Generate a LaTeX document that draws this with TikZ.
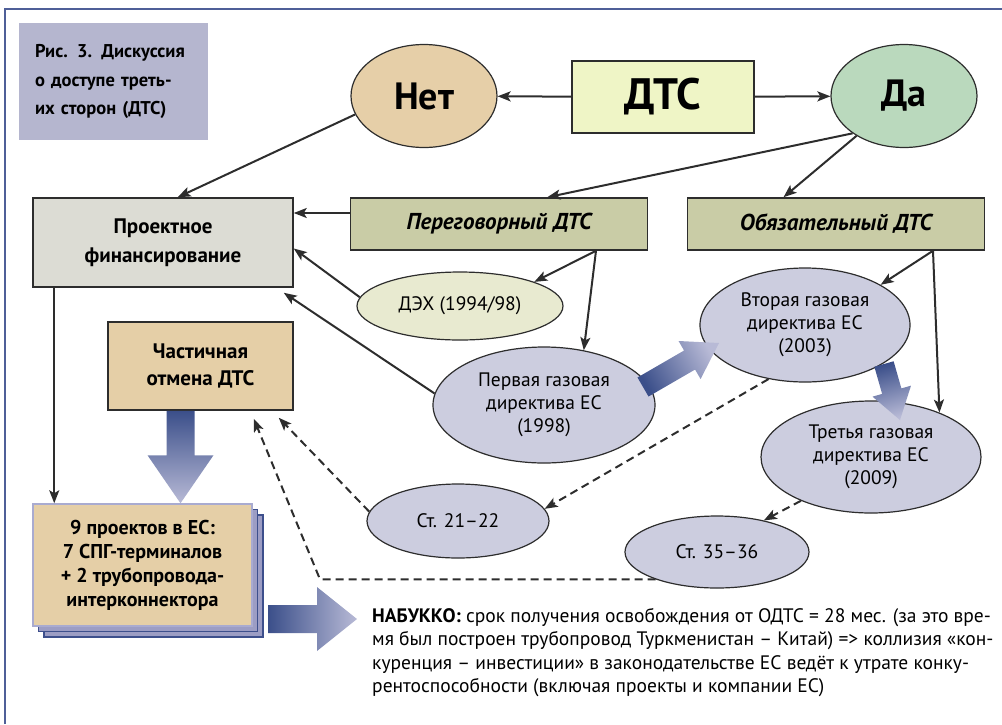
\documentclass[tikz,border=0pt]{standalone}
\usepackage{fontspec}
\setmainfont{PT Sans}
\usepackage{tikz}
\usetikzlibrary{shapes.geometric,arrows.meta,calc,shadows}
\definecolor{netfill}{HTML}{E6CFA8}
\definecolor{dafill}{HTML}{BAD9BD}
\definecolor{dtsfill}{HTML}{EFF5C6}
\definecolor{projfill}{HTML}{DCDCD4}
\definecolor{typefill}{HTML}{C9CCA6}
\definecolor{dehfill}{HTML}{E8EAD0}
\definecolor{dirfill}{HTML}{CCCDDF}
\definecolor{tanfill}{HTML}{E5CFA7}
\definecolor{capfill}{HTML}{B5B6CF}
\definecolor{arrowdark}{HTML}{3B4F8A}
\definecolor{arrowlight}{HTML}{B8BAD6}
\definecolor{linegray}{HTML}{2D2D2D}
\definecolor{frameblue}{HTML}{4F5F98}
\definecolor{shadowfill}{HTML}{9C9DC4}
\definecolor{shadowline}{HTML}{3D4F8C}
\definecolor{edgelav}{HTML}{A9ABD0}
\tikzstyle{box}=[rectangle,draw=linegray,line width=1.5pt,inner sep=2pt,align=center]
\tikzstyle{oval}=[ellipse,draw=linegray,line width=1.2pt,inner sep=0pt,align=center,
  fill=dirfill,font=\fontsize{19.5}{23}\selectfont]
\tikzstyle{yesno}=[ellipse,draw=linegray,line width=1.2pt,inner sep=0pt,
  minimum width=146pt,minimum height=103pt,font=\fontsize{38}{44}\selectfont\bfseries]
\tikzstyle{kind}=[box,fill=typefill,minimum width=297pt,minimum height=52pt,
  font=\fontsize{23}{27}\selectfont\bfseries\itshape]
\tikzstyle{con}=[draw=linegray,line width=2pt,-{Stealth[length=13pt,width=10pt,inset=3pt]}]
\tikzstyle{dcon}=[con,dash pattern=on 8pt off 5pt]
\tikzstyle{fat}=[top color=arrowdark,bottom color=arrowlight]
\newcommand{\fatarrow}[6]{%
  \coordinate (fa-neck) at ($(#2)!#5!(#1)$);
  \shade[fat,shading angle=#6] ($(#1)!#3!90:(#2)$) -- ($(fa-neck)!#3!-90:(#1)$)
    -- ($(fa-neck)!#4!-90:(#1)$) -- (#2) -- ($(fa-neck)!#4!90:(#1)$)
    -- ($(fa-neck)!#3!90:(#1)$) -- ($(#1)!#3!-90:(#2)$) -- cycle;}
\begin{document}
\begin{tikzpicture}[x=1pt,y=-1pt]
        \useasboundingbox (0,0) rectangle (1002,724);
        \draw [draw=frameblue,line width=1.5pt] (5,724) -- (5,9) -- (1002,9);
        \node [fill=capfill,minimum width=189pt,minimum height=117pt,inner xsep=16pt,
          text width=157pt,align=left,font=\fontsize{18.5}{28.5}\selectfont\bfseries]
          (cap) at (113.5,81.5) {Рис. 3. Дискуссия\\о доступе треть-\\их сторон (ДТС)};
        \node [style=yesno,fill=netfill] (net) at (424,96) {Нет};
        \node [style=box,fill=dtsfill,minimum width=182pt,minimum height=72pt,
          font=\fontsize{44}{50}\selectfont\bfseries] (dts) at (663,97) {ДТС};
        \node [style=yesno,fill=dafill] (da) at (904,96) {Да};
        \node [style=box,fill=projfill,minimum width=260pt,minimum height=89pt,
          font=\fontsize{21}{29}\selectfont\bfseries] (proekt) at (163,242.5)
          {Проектное\\финансирование};
        \node [style=kind] (pereg) at (499,224) {Переговорный ДТС};
        \node [style=kind] (obyaz) at (836,224) {Обязательный ДТС};
        \node [style=oval,fill=dehfill,minimum width=206pt,minimum height=68pt]
          (deh) at (460,306) {ДЭХ (1994/98)};
        \node [style=oval,minimum width=222pt,minimum height=116pt] (perv) at (544,405)
          {Первая газовая\\директива ЕС\\(1998)};
        \node [style=oval,minimum width=210pt,minimum height=114pt] (vtor) at (805,325)
          {Вторая газовая\\директива ЕС\\(2003)};
        \node [style=oval,minimum width=220pt,minimum height=112pt] (tret) at (871,457)
          {Третья газовая\\директива ЕС\\(2009)};
        \node [style=oval,minimum width=182pt,minimum height=74pt] (st21) at (458,521)
          {Ст. 21–22};
        \node [style=oval,minimum width=184pt,minimum height=72pt] (st35) at (717,552)
          {Ст. 35–36};
        \node [style=box,fill=tanfill,minimum width=185pt,minimum height=88pt,
          font=\fontsize{21}{27}\selectfont\bfseries] (chast) at (200.5,366)
          {Частичная\\отмена ДТС};
        \node [style=box,fill=tanfill,draw=edgelav,minimum width=219pt,minimum height=122pt,
          double copy shadow={shadow xshift=5.5pt,shadow yshift=-5.5pt,fill=shadowfill,
          draw=shadowline,line width=1.5pt},
          font=\fontsize{20}{24}\selectfont\bfseries] (proj9) at (142.5,565)
          {9 проектов в ЕС:\\7 СПГ-терминалов\\+ 2 трубопровода-\\интерконнектора};
        \node [anchor=north west,inner sep=0pt,align=left,
          font=\fontsize{19.5}{23.5}\selectfont] (note) at (372,608)
          {\textbf{НАБУККО:} срок получения освобождения от ОДТС = 28 мес. (за это вре-\\
          мя был построен трубопровод Туркменистан – Китай) => коллизия «кон-\\
          куренция – инвестиции» в законодательстве ЕС ведёт к утрате конку-\\
          рентоспособности (включая проекты и компании ЕС)};
        \coordinate (pg) at ([yshift=11pt]pereg.west);
        \coordinate (pf) at ([xshift=22pt]proekt.south west);
        \coordinate (bend) at (320,579);
        \draw [style=con] (dts) to (net);
        \draw [style=con] (dts) to (da);
        \draw [style=con] (net.195) to (proekt.72);
        \draw [style=con] (da.216) to (pereg.29);
        \draw [style=con] (da.220) to (obyaz.153);
        \draw [style=con] (pg) to (pg -| proekt.east);
        \draw [style=con] (deh.175) to ([yshift=-6pt]proekt.east);
        \draw [style=con] (perv.174) to ([xshift=-10pt,yshift=-5pt]proekt.south east);
        \draw [style=con] ([xshift=97pt]pereg.south) to (deh.18);
        \draw [style=con] ([xshift=97pt]pereg.south) to (perv.54);
        \draw [style=con] ([xshift=97pt]obyaz.south) to (vtor.28);
        \draw [style=con] ([xshift=97pt]obyaz.south) to (tret.33);
        \draw [style=con] (pf) to (pf |- proj9.north);
        \draw [style=dcon] (vtor.236) to (st21.8);
        \draw [style=dcon] (tret.212) to (st35.34);
        \draw [style=dcon] (st21.174) to ([xshift=-15pt,yshift=-7pt]chast.south east);
        \draw [style=dcon] (st35.204) -- (st35.204 -| bend)
          -- ([xshift=-40pt,yshift=-8pt]chast.south east);
        % block arrows
        \coordinate (ca) at ([xshift=-20pt]chast.south);
        \coordinate (cb) at (ca |- proj9.north);
        \fatarrow{ca}{cb}{14pt}{33pt}{48pt}{0}
        \coordinate (pa) at (268,619);
        \coordinate (pb) at (357,619);
        \fatarrow{pa}{pb}{14pt}{32pt}{40pt}{90}
        \coordinate (va) at (643,387);
        \coordinate (vb) at (719,343);
        \fatarrow{va}{vb}{11pt}{22pt}{34pt}{119}
        \coordinate (ta) at (884,364);
        \coordinate (tb) at (900,420);
        \fatarrow{ta}{tb}{10pt}{20pt}{30pt}{16}
    \end{tikzpicture}
\end{document}
